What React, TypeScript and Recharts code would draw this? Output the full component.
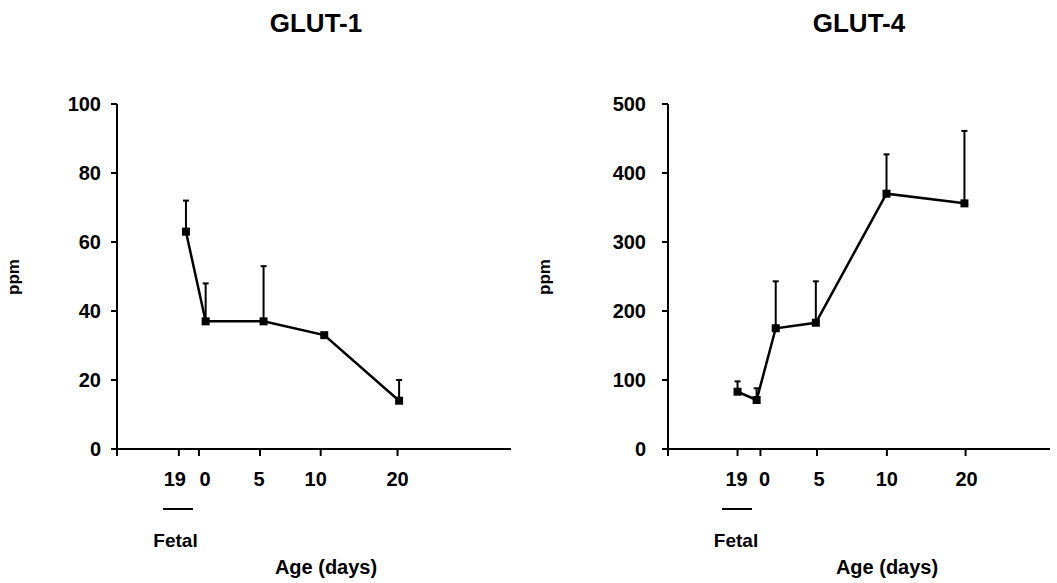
import { ErrorBar, Line, LineChart, XAxis, YAxis } from "recharts";

// x positions are in axis units (0–100) because the original age axis is not to scale
const ageLabels = ["", "19", "0", "5", "10", "20"];

const glut1TickPos = [0, 15.7, 20.8, 36.3, 51.7, 71.2];
const glut1Pos = [17.5, 22.5, 37.2, 52.6, 71.6];
const glut1Ppm = [63, 37, 37, 33, 14];
const glut1Sem = [9, 11, 16, 0, 6];
const glut1YTicks = [0, 20, 40, 60, 80, 100];

const glut4TickPos = [0, 18.2, 24.2, 39.0, 57.3, 77.9];
const glut4Pos = [18.2, 23.2, 28.2, 38.7, 57.2, 77.6];
const glut4Ppm = [83, 71, 175, 183, 370, 356];
const glut4Sem = [15, 17, 68, 60, 57, 105];
const glut4YTicks = [0, 100, 200, 300, 400, 500];

const FONT = "'Liberation Sans', Arial, Helvetica, sans-serif";
const tickStyle = { fill: "#000", fontSize: 20, fontWeight: 700, fontFamily: FONT };

type Punto = { pos: number; ppm: number; sem: number };

const armar = (pos: number[], ppm: number[], sem: number[]): Punto[] =>
  pos.map((p, i) => ({ pos: p, ppm: ppm[i], sem: sem[i] }));

const PuntoCuadrado = (props: any) => {
  const { cx, cy, index } = props;
  if (cx == null || cy == null) return <g key={index} />;
  return <rect key={index} x={cx - 4} y={cy - 4} width={8} height={8} fill="#000" />;
};

// nudges for the age labels, the printed labels sit a bit off their ticks
const TickEdad = (props: any) => {
  const { x, y, payload, index, corrimientos } = props;
  const texto = ageLabels[index] ?? "";
  return (
    <text
      x={x + (corrimientos[index] ?? 0)}
      y={y}
      dy="0.71em"
      textAnchor="middle"
      fill="#000"
      fontSize={20}
      fontWeight={700}
      fontFamily={FONT}
      data-v={payload?.value}
    >
      {texto}
    </text>
  );
};

function Panel({
  datos,
  tickPos,
  yTicks,
  ancho,
  margenIzq,
  margenDer,
  tickMargenY,
  corrimientos,
}: {
  datos: Punto[];
  tickPos: number[];
  yTicks: number[];
  ancho: number;
  margenIzq: number;
  margenDer: number;
  tickMargenY: number;
  corrimientos: number[];
}) {
  return (
    <LineChart width={ancho} height={583} data={datos} margin={{ top: 104, right: margenDer, left: margenIzq, bottom: 104 }}>
      <XAxis
        type="number"
        dataKey="pos"
        domain={[0, 100]}
        ticks={tickPos}
        interval={0}
        tick={(p: any) => <TickEdad {...p} corrimientos={corrimientos} />}
        tickSize={7}
        tickMargin={16}
        height={30}
        axisLine={{ stroke: "#000", strokeWidth: 2 }}
        tickLine={{ stroke: "#000", strokeWidth: 2 }}
      />
      <YAxis
        type="number"
        domain={[yTicks[0], yTicks[yTicks.length - 1]]}
        ticks={yTicks}
        interval={0}
        allowDataOverflow
        width={60}
        tick={tickStyle}
        tickSize={6}
        tickMargin={tickMargenY}
        axisLine={{ stroke: "#000", strokeWidth: 2 }}
        tickLine={{ stroke: "#000", strokeWidth: 2 }}
      />
      <Line
        dataKey="ppm"
        stroke="#000"
        strokeWidth={2.5}
        dot={PuntoCuadrado}
        activeDot={false}
        isAnimationActive={false}
      >
        <ErrorBar
          dataKey={(d: Punto) => [0, d.sem]}
          direction="y"
          width={3}
          stroke="#000"
          strokeWidth={2}
          isAnimationActive={false}
        />
      </Line>
    </LineChart>
  );
}

const abs = (left: number, top: number, extra: React.CSSProperties = {}): React.CSSProperties => ({
  position: "absolute",
  left,
  top,
  fontFamily: FONT,
  fontWeight: 700,
  color: "#000",
  whiteSpace: "nowrap",
  ...extra,
});

function Texto({ x, baseline, size, children }: { x: number; baseline: number; size: number; children: string }) {
  return (
    <div style={abs(x - 150, baseline - size * 0.8465, { width: 300, textAlign: "center", fontSize: size, lineHeight: `${size}px` })}>
      {children}
    </div>
  );
}

function Ppm({ x, y }: { x: number; y: number }) {
  return (
    <div
      style={abs(x - 40, y - 9, {
        width: 80,
        height: 18,
        textAlign: "center",
        fontSize: 17,
        lineHeight: "18px",
        transform: "rotate(-90deg)",
      })}
    >
      ppm
    </div>
  );
}

export default function App() {
  return (
    <div style={{ position: "absolute", left: 0, top: 0, width: 1057, height: 583, background: "#fff", overflow: "hidden" }}>
      <div style={{ position: "absolute", left: 0, top: 0 }}>
        <Panel
          datos={armar(glut1Pos, glut1Ppm, glut1Sem)}
          tickPos={glut1TickPos}
          yTicks={glut1YTicks}
          ancho={530}
          margenIzq={57}
          margenDer={19}
          tickMargenY={10}
          corrimientos={[0, -4, 6, -1, -5, 0]}
        />
      </div>
      <div style={{ position: "absolute", left: 530, top: 0 }}>
        <Panel
          datos={armar(glut4Pos, glut4Ppm, glut4Sem)}
          tickPos={glut4TickPos}
          yTicks={glut4YTicks}
          ancho={527}
          margenIzq={78}
          margenDer={7}
          tickMargenY={16}
          corrimientos={[0, -1, 4, 2, 0, 1]}
        />
      </div>

      <Texto x={316} baseline={32} size={26}>GLUT-1</Texto>
      <Texto x={859} baseline={32} size={26}>GLUT-4</Texto>

      <Ppm x={14} y={277} />
      <Ppm x={545} y={277} />

      <div style={{ position: "absolute", left: 163, top: 508, width: 30, height: 0, borderTop: "2px solid #000" }} />
      <div style={{ position: "absolute", left: 722, top: 508, width: 30, height: 0, borderTop: "2px solid #000" }} />

      <Texto x={175.5} baseline={546.7} size={19}>Fetal</Texto>
      <Texto x={736} baseline={546.7} size={19}>Fetal</Texto>

      <Texto x={326} baseline={574} size={20}>Age (days)</Texto>
      <Texto x={887} baseline={574} size={20}>Age (days)</Texto>
    </div>
  );
}
